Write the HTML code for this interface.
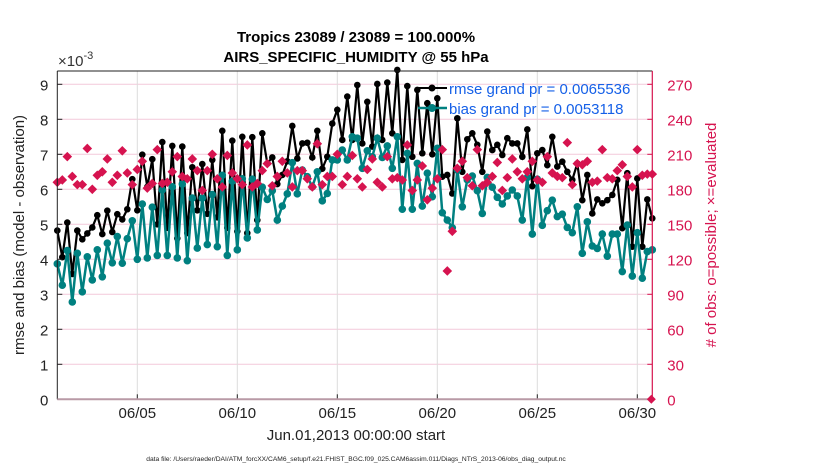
<!DOCTYPE html>
<html><head><meta charset="utf-8"><style>
body{margin:0;background:#fff;}
svg{display:block;font-family:"Liberation Sans",sans-serif;}
</style></head><body>
<svg id="chart" width="830" height="470" viewBox="0 0 830 470">
<text x="356" y="42" text-anchor="middle" font-size="15" font-weight="bold">Tropics 23089 / 23089 = 100.000%</text>
<text x="356" y="62" text-anchor="middle" font-size="15" font-weight="bold">AIRS_SPECIFIC_HUMIDITY @ 55 hPa</text>
<g id="grid"></g>
<g id="series"></g>
<g id="axes"></g>
<text x="58" y="66" font-size="15" fill="#333">×10<tspan dy="-7" font-size="11">-3</tspan></text>
<text transform="translate(24,235) rotate(-90)" text-anchor="middle" font-size="15" fill="#222">rmse and bias (model - observation)</text>
<text transform="translate(716,235) rotate(-90)" text-anchor="middle" font-size="15" fill="#d6134f"># of obs: o=possible; ×=evaluated</text>
<text x="356" y="440" text-anchor="middle" font-size="15" fill="#222">Jun.01,2013 00:00:00 start</text>
<text x="356" y="461" text-anchor="middle" font-size="6.7" fill="#222">data file: /Users/raeder/DAI/ATM_forcXX/CAM6_setup/f.e21.FHIST_BGC.f09_025.CAM6assim.011/Diags_NTrS_2013-06/obs_diag_output.nc</text>
<g>
<line x1="418" y1="88" x2="447" y2="88" stroke="#000" stroke-width="2"/>
<circle cx="432" cy="88" r="3.5" fill="#000"/>
<text x="449" y="94" font-size="15" fill="#1560e8">rmse grand pr = 0.0065536</text>
<line x1="418" y1="108" x2="447" y2="108" stroke="#008080" stroke-width="2.5"/>
<circle cx="432" cy="108" r="4" fill="#008080"/>
<text x="449" y="114" font-size="15" fill="#1560e8">bias grand pr = 0.0053118</text>
</g>
</svg>
<script>
const rmse=[4.82,4.06,5.05,3.58,4.82,4.57,4.74,4.91,5.26,4.72,5.39,4.78,5.29,5.14,5.43,6.29,5.4,6.99,6.07,6.86,
5.0,7.35,4.9,7.24,4.6,7.22,4.75,6.63,5.4,6.72,5.3,6.84,5.2,7.67,4.9,7.39,4.8,7.5,4.75,7.49,
5.12,7.6,6.74,6.91,6.15,6.41,6.8,7.81,6.88,7.31,7.33,6.91,7.67,6.59,6.93,7.88,8.27,7.41,8.65,7.41,
8.98,7.31,8.5,7.22,9.01,7.41,9.05,7.6,9.41,6.84,8.95,6.93,8.84,7.03,8.46,7.0,8.6,6.36,6.41,5.88,
8.03,6.5,7.43,7.6,7.27,6.5,7.65,7.12,7.27,6.98,7.46,7.31,7.31,6.93,7.71,6.09,7.03,7.12,6.69,7.5,
6.65,6.79,6.5,6.27,6.74,5.69,6.41,5.31,5.71,5.6,5.69,5.84,6.27,4.89,6.46,4.36,6.31,4.36,5.71,5.17];
const bias=[3.87,3.26,4.25,2.78,4.17,3.07,4.07,3.41,4.27,3.5,4.46,3.9,4.65,3.89,4.59,5.1,4.0,5.58,4.04,5.49,
4.11,5.98,4.11,6.07,4.04,6.15,3.96,5.75,4.32,5.75,4.42,5.85,4.36,6.4,4.11,6.23,4.27,6.3,4.61,6.29,
4.84,6.06,5.71,5.96,5.12,5.52,5.87,6.76,5.87,6.55,6.36,6.07,6.5,5.67,5.88,6.84,6.84,7.12,6.84,7.5,
7.46,6.6,7.1,6.93,7.46,6.91,7.24,6.6,7.5,5.43,7.03,5.43,6.74,5.52,6.46,5.79,7.17,5.33,5.12,4.9,
6.55,5.5,6.27,6.38,5.96,5.31,6.34,6.06,5.77,5.58,5.81,5.98,5.81,5.12,6.34,4.72,6.29,4.97,5.39,5.69,
5.22,5.29,4.91,4.76,5.5,4.17,5.07,4.38,4.31,4.72,4.09,4.72,4.72,3.65,4.98,3.52,4.76,3.46,4.22,4.27];
const nobs=[186,188,208,191,184,184,215,180,192,195,206,186,192,213,194,184,197,204,181,185,
214,185,186,195,208,191,189,206,196,179,196,210,189,182,209,194,189,184,218,182,
185,196,202,183,191,204,194,182,196,196,189,182,219,184,191,191,210,184,191,209,
189,182,197,206,186,182,208,189,190,188,218,179,188,200,171,181,189,214,110,144,
198,204,190,183,214,183,186,191,203,179,190,206,195,189,195,204,188,186,208,194,
191,190,220,184,202,201,204,186,187,214,190,189,196,201,191,182,214,192,193,193];
const leftTicks=[0,1,2,3,4,5,6,7,8,9];
const rightTicks=[0,30,60,90,120,150,180,210,240,270];
const dateTicks=[5,10,15,20,25,30];
const dateLabels=["06/05","06/10","06/15","06/20","06/25","06/30"];

const NS="http://www.w3.org/2000/svg";
const X0=57.3,X1=652.3,Y0=399.3,YT=71;
const DAY0=1,DAYS=29.75;
function xDay(d){return X0+(d-DAY0)/DAYS*(X1-X0);}
function xIdx(i){return xDay(DAY0+i*0.25);}
function yL(v){return Y0-v*35;}
function yR(n){return Y0-n/30*35;}
function mk(tag,attrs,parent){const e=document.createElementNS(NS,tag);for(const k in attrs)e.setAttribute(k,attrs[k]);parent.appendChild(e);return e;}
const grid=document.getElementById('grid'),series=document.getElementById('series'),axes=document.getElementById('axes');

leftTicks.forEach((v,i)=>{
  const l=mk('line',{x1:X0,x2:X1,y1:yL(v),y2:yL(v),stroke:'#f3c9da','stroke-width':1},grid);
  
  
  const t=mk('text',{x:X0-9,y:yL(v)+6,'text-anchor':'end','font-size':15,fill:'#222'},axes);
  t.textContent=v;
  
  
  mk('line',{x1:X0,x2:X0+5,y1:yL(v),y2:yL(v),stroke:'#222'},axes);
});
rightTicks.forEach(n=>{
  const t=mk('text',{x:X1+15,y:yR(n)+6,'font-size':15,fill:'#d6134f'},axes);
  t.textContent=n;
  
  
  mk('line',{x1:X1-5,x2:X1,y1:yR(n),y2:yR(n),stroke:'#d6134f'},axes);
});
dateTicks.forEach((d,i)=>{
  const l=mk('line',{x1:xDay(d),x2:xDay(d),y1:YT,y2:Y0,stroke:'#dcdcdc','stroke-width':1},grid);
  
  
  mk('line',{x1:xDay(d),x2:xDay(d),y1:Y0,y2:Y0-5,stroke:'#222'},axes);
  const t=mk('text',{x:xDay(d),y:418,'text-anchor':'middle','font-size':15,fill:'#222'},axes);
  t.textContent=dateLabels[i];
  
  
});
let a;
a=mk('line',{x1:X0,x2:X0,y1:YT,y2:Y0,stroke:'#222','stroke-width':1},axes);


a=mk('line',{x1:X0,x2:X1,y1:YT,y2:YT,stroke:'#222','stroke-width':1},axes);


a=mk('line',{x1:X0,x2:X1,y1:Y0,y2:Y0,stroke:'#b99aa6','stroke-width':2},axes);


a=mk('line',{x1:X1,x2:X1,y1:YT,y2:Y0,stroke:'#d6134f','stroke-width':1.2},axes);



function diamond(cx,cy,r){return `${cx},${cy-r} ${cx+r},${cy} ${cx},${cy+r} ${cx-r},${cy}`;}
let p;
p=mk('polyline',{points:rmse.map((v,i)=>xIdx(i)+','+yL(v)).join(' '),fill:'none',stroke:'#000','stroke-width':2.2},series);


rmse.forEach((v,i)=>{
  const c=mk('circle',{cx:xIdx(i),cy:yL(v),r:3.3,fill:'#000'},series);
  
  
});
p=mk('polyline',{points:bias.map((v,i)=>xIdx(i)+','+yL(v)).join(' '),fill:'none',stroke:'#008080','stroke-width':2.5},series);


bias.forEach((v,i)=>{
  const c=mk('circle',{cx:xIdx(i),cy:yL(v),r:3.8,fill:'#008080'},series);
  
  
});
nobs.forEach((n,i)=>{
  const d=mk('polygon',{points:diamond(xIdx(i),yR(n),4.8),fill:'#d6134f'},series);
  
  
});
const z=mk('polygon',{points:diamond(X1-1,yR(0),4.5),fill:'#d6134f'},axes);


</script>
</body></html>
